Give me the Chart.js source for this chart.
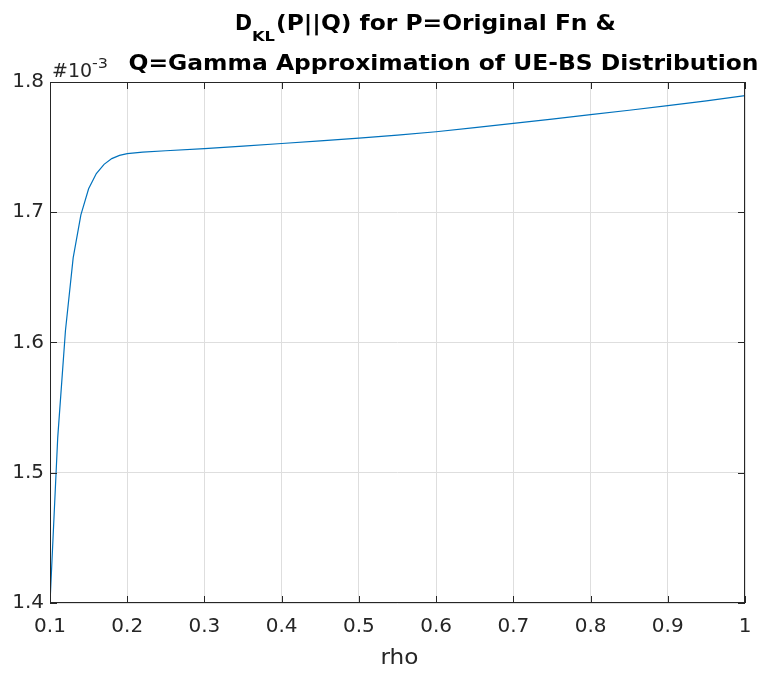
<!DOCTYPE html>
<html>
<head>
<meta charset="utf-8">
<script src="https://cdn.jsdelivr.net/npm/chart.js@4"></script>
<style>
  html, body { margin: 0; padding: 0; background: #fff; }
  #wrap { width: 765px; height: 674px; }
</style>
</head>
<body>
<div id="wrap"><canvas id="dklChart" width="765" height="674"></canvas></div>
<script>
// rho values and D_KL values (in units of 1e-3)
const rho = [0.10, 0.11, 0.12, 0.13, 0.14, 0.15, 0.16, 0.17, 0.18, 0.19, 0.20,
             0.22, 0.25, 0.30, 0.35, 0.40, 0.45, 0.50, 0.55, 0.60, 0.65,
             0.70, 0.75, 0.80, 0.85, 0.90, 0.95, 1.00];
const dklE3 = [1.400, 1.527, 1.609, 1.665, 1.698, 1.718, 1.7297, 1.7368, 1.7412, 1.7437, 1.7450,
               1.7462, 1.7472, 1.7488, 1.7508, 1.7528, 1.7548, 1.7569, 1.7592, 1.7618, 1.7649,
               1.7682, 1.7715, 1.7749, 1.7783, 1.7818, 1.7855, 1.7895];
const xTicks = [0.1, 0.2, 0.3, 0.4, 0.5, 0.6, 0.7, 0.8, 0.9, 1];
const yTicks = [1.4, 1.5, 1.6, 1.7, 1.8];

const axisColor = '#262626';
const gridColor = '#dedede';
const font = 'DejaVu Sans';

// draw text stretched horizontally to fit a given width
function fitText(ctx, txt, x, y, w) {
  const m = ctx.measureText(txt).width;
  ctx.save();
  ctx.translate(x, y);
  ctx.scale(w / m, 1);
  ctx.fillText(txt, 0, 0);
  ctx.restore();
}

const matlabBox = {
  id: 'matlabBox',
  afterDraw(chart) {
    const { ctx, chartArea: a, scales } = chart;
    ctx.save();
    ctx.strokeStyle = axisColor;
    ctx.lineWidth = 1;
    ctx.strokeRect(a.left + 0.5, a.top + 0.5, a.right - a.left - 1, a.bottom - a.top - 1);
    // inward ticks on all four sides
    const tl = 7;
    ctx.beginPath();
    xTicks.forEach(v => {
      const px = Math.round(scales.x.getPixelForValue(v)) + 0.5;
      ctx.moveTo(px, a.bottom); ctx.lineTo(px, a.bottom - tl);
      ctx.moveTo(px, a.top); ctx.lineTo(px, a.top + tl);
    });
    yTicks.forEach(v => {
      const py = Math.round(scales.y.getPixelForValue(v)) + 0.5;
      ctx.moveTo(a.left, py); ctx.lineTo(a.left + tl, py);
      ctx.moveTo(a.right, py); ctx.lineTo(a.right - tl, py);
    });
    ctx.stroke();

    ctx.fillStyle = axisColor;
    ctx.textBaseline = 'alphabetic';
    // exponent label
    ctx.font = '19px "' + font + '"';
    fitText(ctx, '#10', 52, 77, 40);
    ctx.font = '14px "' + font + '"';
    fitText(ctx, '-3', 92, 68, 16);

    // x axis label
    ctx.font = '21px "' + font + '"';
    fitText(ctx, 'rho', 380.5, 664, 38);

    // title, two lines, first with subscript
    ctx.fillStyle = '#000';
    ctx.textAlign = 'left';
    const big = 'bold 21px "' + font + '"';
    const small = 'bold 14px "' + font + '"';
    ctx.font = big;
    fitText(ctx, 'D', 235, 30, 17);
    ctx.font = small;
    fitText(ctx, 'KL', 252, 41, 23);
    ctx.font = big;
    fitText(ctx, '(P||Q) for P=Original Fn &', 276, 30, 340);
    fitText(ctx, 'Q=Gamma Approximation of UE-BS Distribution', 128.5, 69.5, 630);
    ctx.restore();
  }
};

new Chart(document.getElementById('dklChart').getContext('2d'), {
  type: 'scatter',
  data: {
    datasets: [{
      data: rho.map((r, i) => ({ x: r, y: dklE3[i] })),
      showLine: true,
      borderColor: '#0072BD',
      backgroundColor: '#0072BD',
      borderWidth: 1.2,
      pointRadius: 0,
      tension: 0
    }]
  },
  options: {
    responsive: false,
    animation: false,
    events: [],
    layout: { padding: { top: 82, right: 20, left: 0, bottom: 0 } },
    plugins: { legend: { display: false }, tooltip: { enabled: false }, title: { display: false } },
    scales: {
      x: {
        type: 'linear',
        min: 0.1,
        max: 1,
        afterFit: s => { s.height = 71; },
        afterBuildTicks: s => { s.ticks = xTicks.map(v => ({ value: v })); },
        ticks: {
          color: axisColor,
          font: { family: font, size: 20 },
          padding: 12,
          maxRotation: 0,
          autoSkip: false,
          callback: v => (Math.round(v * 10) / 10).toString()
        },
        grid: { color: gridColor, tickLength: 0, drawTicks: false },
        border: { display: false }
      },
      y: {
        min: 1.4,
        max: 1.8,
        afterFit: s => { s.width = 50; },
        afterBuildTicks: s => { s.ticks = yTicks.map(v => ({ value: v })); },
        ticks: {
          color: axisColor,
          font: { family: font, size: 20 },
          padding: 6,
          autoSkip: false,
          callback: v => v.toFixed(1)
        },
        grid: { color: gridColor, tickLength: 0, drawTicks: false },
        border: { display: false }
      }
    }
  },
  plugins: [matlabBox]
});
</script>
</body>
</html>
